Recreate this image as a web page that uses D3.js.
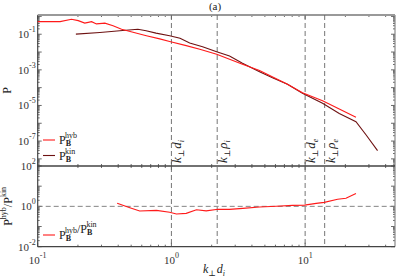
<!DOCTYPE html>
<html>
<head>
<meta charset="utf-8">
<script src="https://cdn.jsdelivr.net/npm/d3@7"></script>
<style>
  body { margin: 0; background: #fff; }
  svg { display: block; font-family: "Liberation Serif", "DejaVu Serif", serif; }
</style>
</head>
<body>
<div id="chart"></div>
<script>
// Data

const hybK = [0.100, 0.147, 0.179, 0.201, 0.225, 0.253, 0.275, 0.318, 0.366, 0.424, 0.516, 0.650, 0.818, 0.97, 1.29, 1.63, 2.18, 3.40, 4.56, 7.38, 9.55, 13.5, 18.0, 24.0];
const hybP = [0.51, 0.51, 0.69, 0.58, 0.42, 0.51, 0.38, 0.42, 0.30, 0.19, 0.129, 0.083, 0.055, 0.039, 0.023, 0.0145, 0.0076, 0.00204, 9.1e-4, 1.55e-4, 5.2e-5, 1.86e-5, 6.3e-6, 2.2e-6];

const kinK = [0.193, 0.292, 0.411, 0.561, 0.647, 0.767, 0.97, 1.16, 1.37, 1.71, 2.18, 2.72, 3.40, 4.56, 5.70, 7.38, 9.55, 13.5, 18.0, 24.0, 28.6, 34.8];
const kinP = [0.102, 0.126, 0.158, 0.19, 0.158, 0.115, 0.083, 0.060, 0.032, 0.020, 0.0105, 0.006, 0.00234, 7.9e-4, 3.6e-4, 1.55e-4, 4.9e-5, 1.32e-5, 3.5e-6, 1.23e-6, 2.2e-7, 2.9e-8];

const ratioK = [0.393, 0.489, 0.579, 0.773, 0.97, 1.09, 1.29, 1.54, 1.82, 2.23, 2.72, 3.42, 4.56, 6.08, 8.07, 9.89, 12.1, 13.9, 17.5, 20.2, 24.0];
const ratioV = [1.41, 0.85, 0.59, 0.63, 0.51, 0.42, 0.45, 0.68, 0.60, 0.72, 0.71, 0.79, 0.93, 1.02, 1.12, 1.15, 1.41, 1.58, 2.24, 2.51, 4.37];

const scaleK = [1.0, 2.2, 10, 14];                                   // k_perp d_i, rho_i, d_e, rho_e
const scaleNames = [["d", "i"], ["\u03C1", "i"], ["d", "e"], ["\u03C1", "e"]];

const xTicks = [0.1, 1, 10];
const topTicks = [1e-7, 1e-5, 1e-3, 1e-1];
const botTicks = [1e-2, 1, 1e2];

// Layout

const W = 399, H = 277;
const L = 37.7, R = 395, T = 15, MID = 166, B = 246.7;
const red = "#ff1a1a", dark = "#6e1212", frame = "#444";

const svg = d3.select("#chart").append("svg").attr("width", W).attr("height", H);

const x = d3.scaleLog().domain([0.1, 47]).range([L, R]);
const yTop = d3.scaleLog().domain([Math.pow(10, -8.4), Math.pow(10, 0.08)]).range([MID, T]);
const yBot = d3.scaleLog().domain([1e-2, 1e2]).range([B, MID]);

// minor tick helpers
function minors(lo, hi) {
    const out = [];
    for (let e = Math.floor(Math.log10(lo)); e <= Math.ceil(Math.log10(hi)); e++) {
        for (let m = 1; m < 10; m++) {
            const v = m * Math.pow(10, e);
            if (v >= lo && v <= hi) out.push(v);
        }
    }
    return out;
}

function sup(sel, base, exp, anchor) {
    const t = sel.attr("text-anchor", anchor);
    t.append("tspan").text(base);
    t.append("tspan").attr("dy", -6).attr("font-size", 8).text(exp);
}

// Panel frames and ticks
function panel(y, y0, y1, yMajor, yAll, drawTop) {
    const g = svg.append("g");
    // x ticks (bottom and top of panel, inward)
    minors(0.1, 47).forEach(v => {
        const len = xTicks.includes(v) ? 4 : 2;
        g.append("line").attr("x1", x(v)).attr("x2", x(v)).attr("y1", y0).attr("y2", y0 - len).attr("stroke", frame).attr("stroke-width", 0.8);
        g.append("line").attr("x1", x(v)).attr("x2", x(v)).attr("y1", y1).attr("y2", y1 + len).attr("stroke", frame).attr("stroke-width", 0.8);
    });
    // y ticks (left and right)
    yAll.forEach(v => {
        const len = yMajor.includes(v) ? 4 : 2;
        g.append("line").attr("x1", L).attr("x2", L + len).attr("y1", y(v)).attr("y2", y(v)).attr("stroke", frame).attr("stroke-width", 0.8);
        g.append("line").attr("x1", R).attr("x2", R - len).attr("y1", y(v)).attr("y2", y(v)).attr("stroke", frame).attr("stroke-width", 0.8);
    });
    g.append("line").attr("x1", L).attr("x2", L).attr("y1", y1).attr("y2", y0).attr("stroke", frame).attr("stroke-width", 1.2);
    g.append("line").attr("x1", R).attr("x2", R).attr("y1", y1).attr("y2", y0).attr("stroke", "#888").attr("stroke-width", 1.2);
    g.append("line").attr("x1", L).attr("x2", R).attr("y1", y0).attr("y2", y0).attr("stroke", frame).attr("stroke-width", 1.2);
    g.append("line").attr("x1", L).attr("x2", R).attr("y1", y1).attr("y2", y1)
        .attr("stroke", drawTop ? "#999" : frame).attr("stroke-width", drawTop ? 1.8 : 1.2);
    return g;
}

const topMajor = d3.range(-8, 1).map(e => Math.pow(10, e));
panel(yTop, MID, T, topMajor, minors(Math.pow(10, -8.4), Math.pow(10, 0.08)), true);
panel(yBot, B, MID, [1e-2, 1e-1, 1, 10, 100], minors(1e-2, 1e2), false);

// Dashed reference lines
scaleK.forEach(k => {
    svg.append("line").attr("x1", x(k)).attr("x2", x(k)).attr("y1", T).attr("y2", B)
        .attr("stroke", "#666").attr("stroke-width", 0.9).attr("stroke-dasharray", "5,3");
});
svg.append("line").attr("x1", L).attr("x2", R).attr("y1", yBot(1)).attr("y2", yBot(1))
    .attr("stroke", "#777").attr("stroke-width", 0.9).attr("stroke-dasharray", "5,3");

// Curves
const lineTop = d3.line().x(d => x(d[0])).y(d => yTop(d[1]));
const lineBot = d3.line().x(d => x(d[0])).y(d => yBot(d[1]));

svg.append("path").datum(d3.zip(kinK, kinP)).attr("d", lineTop).attr("fill", "none").attr("stroke", dark).attr("stroke-width", 1.1);
svg.append("path").datum(d3.zip(hybK, hybP)).attr("d", lineTop).attr("fill", "none").attr("stroke", red).attr("stroke-width", 1.1);
svg.append("path").datum(d3.zip(ratioK, ratioV)).attr("d", lineBot).attr("fill", "none").attr("stroke", red).attr("stroke-width", 1.1);

// Scale labels (rotated)
scaleK.forEach((k, i) => {
    const t = svg.append("text").attr("transform", `translate(${x(k) + 10},${MID - 3}) rotate(-90)`)
        .attr("font-size", 13).attr("font-style", "italic").attr("fill", "#222");
    t.append("tspan").text("k");
    t.append("tspan").attr("dy", 3).attr("font-size", 8).attr("font-style", "normal").text("\u22A5");
    t.append("tspan").attr("dx", 1).attr("dy", -3).text(scaleNames[i][0]);
    t.append("tspan").attr("dy", 3).attr("font-size", 8).text(scaleNames[i][1]);
});

// Tick labels
xTicks.forEach(v => {
    const t = svg.append("text").attr("x", x(v)).attr("y", 264).attr("font-size", 11).attr("fill", "#333");
    sup(t, "10", String(Math.round(Math.log10(v))), "middle");
});
topTicks.forEach(v => {
    const t = svg.append("text").attr("x", L - 2).attr("y", yTop(v) + 4).attr("font-size", 11).attr("fill", "#333");
    sup(t, "10", String(Math.round(Math.log10(v))), "end");
});
botTicks.forEach(v => {
    const t = svg.append("text").attr("x", L - 2).attr("y", yBot(v) + 4).attr("font-size", 11).attr("fill", "#333");
    sup(t, "10", String(Math.round(Math.log10(v))), "end");
});

// Axis titles
svg.append("text").attr("x", 215).attr("y", 10).attr("text-anchor", "middle").attr("font-size", 11).attr("fill", "#222").text("(a)");

svg.append("text").attr("transform", `translate(11,${(T + MID) / 2}) rotate(-90)`).attr("text-anchor", "middle")
    .attr("font-size", 12).attr("fill", "#222").text("P");

const yl = svg.append("text").attr("transform", `translate(12,${(MID + B) / 2}) rotate(-90)`).attr("text-anchor", "middle")
    .attr("font-size", 12).attr("fill", "#222");
yl.append("tspan").text("P");
yl.append("tspan").attr("dy", -6).attr("font-size", 8).text("hyb");
yl.append("tspan").attr("dy", 6).text("/P");
yl.append("tspan").attr("dy", -6).attr("font-size", 8).text("kin");

const xl = svg.append("text").attr("x", 214).attr("y", 273).attr("text-anchor", "middle")
    .attr("font-size", 12).attr("font-style", "italic").attr("fill", "#222");
xl.append("tspan").text("k");
xl.append("tspan").attr("dy", 3).attr("font-size", 8).attr("font-style", "normal").text("\u22A5");
xl.append("tspan").attr("dx", 1).attr("dy", -3).text("d");
xl.append("tspan").attr("dy", 3).attr("font-size", 8).text("i");

// Legends
function pb(t, supText) {
    t.append("tspan").text("P");
    t.append("tspan").attr("dy", 2).attr("font-size", 8).attr("font-weight", "bold").text("B");
    t.append("tspan").attr("dx", -6).attr("dy", -8).attr("font-size", 8).text(supText);
    t.append("tspan").attr("dy", 6).text("");
}
function legendRow(yy, color, build) {
    svg.append("line").attr("x1", 43).attr("x2", 55).attr("y1", yy).attr("y2", yy).attr("stroke", color).attr("stroke-width", 1.1);
    const t = svg.append("text").attr("x", 59).attr("y", yy + 4).attr("font-size", 12).attr("fill", "#222");
    build(t);
}
legendRow(140, red, t => pb(t, "hyb"));
legendRow(155.5, dark, t => pb(t, "kin"));
legendRow(235, red, t => {
    pb(t, "hyb");
    t.append("tspan").text("/P");
    t.append("tspan").attr("dy", 2).attr("font-size", 8).attr("font-weight", "bold").text("B");
    t.append("tspan").attr("dx", -6).attr("dy", -8).attr("font-size", 8).text("kin");
});
</script>
</body>
</html>
